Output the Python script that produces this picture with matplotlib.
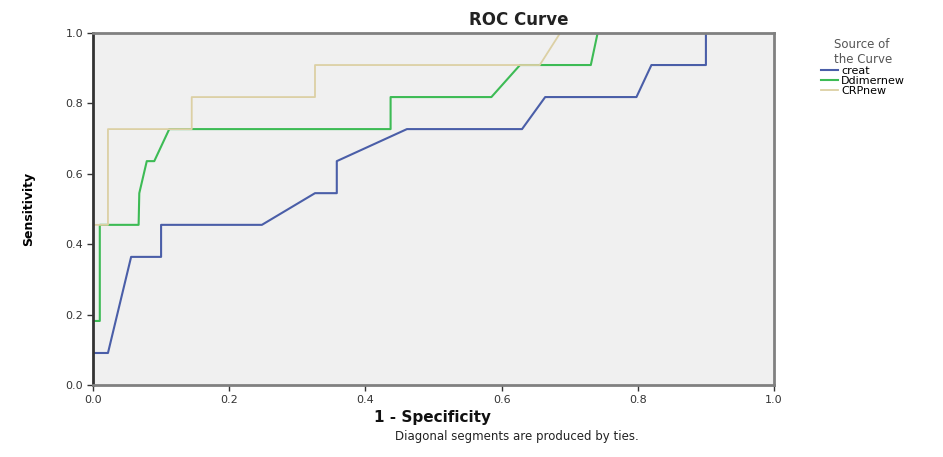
import matplotlib.pyplot as plt

# ROC vertices (1 - specificity, sensitivity)
creat_fpr = [0, 0, 0.022, 0.056, 0.100, 0.100, 0.248, 0.326, 0.358, 0.358,
             0.461, 0.630, 0.664, 0.798, 0.820, 0.900, 0.900, 1.0]
creat_tpr = [0, 0.091, 0.091, 0.364, 0.364, 0.455, 0.455, 0.545, 0.545, 0.636,
             0.727, 0.727, 0.818, 0.818, 0.909, 0.909, 1.0, 1.0]

ddimer_fpr = [0, 0, 0.010, 0.010, 0.067, 0.068, 0.079, 0.090, 0.112, 0.437,
              0.437, 0.585, 0.627, 0.731, 0.741, 1.0]
ddimer_tpr = [0, 0.182, 0.182, 0.455, 0.455, 0.545, 0.636, 0.636, 0.727, 0.727,
              0.818, 0.818, 0.909, 0.909, 1.0, 1.0]

crp_fpr = [0, 0, 0.022, 0.022, 0.145, 0.145, 0.326, 0.326, 0.656, 0.686, 1.0]
crp_tpr = [0, 0.455, 0.455, 0.727, 0.727, 0.818, 0.818, 0.909, 0.909, 1.0, 1.0]

ticks = [0.0, 0.2, 0.4, 0.6, 0.8, 1.0]
tick_labels = ["0.0", "0.2", "0.4", "0.6", "0.8", "1.0"]


def roc_plot():
    fig = plt.figure(figsize=(9.43, 4.57), dpi=100)
    ax = fig.add_axes([0.0986, 0.1575, 0.7222, 0.7703])
    ax.set_facecolor("#f0f0f0")

    ax.plot(creat_fpr, creat_tpr, c="#4a5ea8", lw=1.5, label="creat")
    ax.plot(ddimer_fpr, ddimer_tpr, c="#3dbb55", lw=1.5, label="Ddimernew")
    ax.plot(crp_fpr, crp_tpr, c="#dcd0a4", lw=1.3, label="CRPnew")

    ax.set_xlim(0, 1)
    ax.set_ylim(0, 1)
    ax.set_xticks(ticks)
    ax.set_xticklabels(tick_labels)
    ax.set_yticks(ticks)
    ax.set_yticklabels(tick_labels)
    ax.tick_params(labelsize=8, colors="#333333", length=4, width=1, pad=3)

    for side in ["top", "right", "bottom"]:
        ax.spines[side].set_color("#808080")
        ax.spines[side].set_linewidth(2)
    ax.spines["left"].set_color("#333333")
    ax.spines["left"].set_linewidth(2)

    ax.set_ylabel("Sensitivity", fontsize=9, fontweight="bold", labelpad=22)

    fig.text(0.550, 0.956, "ROC Curve", ha="center", va="center",
             fontsize=12, fontweight="bold", color="#222222")
    fig.text(0.459, 0.0875, "1 - Specificity", ha="center", va="center",
             fontsize=11, fontweight="bold", color="#111111")
    fig.text(0.548, 0.044, "Diagonal segments are produced by ties.",
             ha="center", va="center", fontsize=8.5, color="#222222")

    leg = ax.legend(loc="upper left", bbox_to_anchor=(0.865, 0.93),
                    bbox_transform=fig.transFigure, frameon=False,
                    title="Source of\nthe Curve", fontsize=8,
                    title_fontsize=8.5, handlelength=1.5, handletextpad=0.3,
                    labelspacing=0.0, borderpad=0)
    leg.get_title().set_color("#555555")
    leg._legend_box.align = "center"

    fig.savefig("out.png", dpi=100)


if __name__ == "__main__":
    roc_plot()
